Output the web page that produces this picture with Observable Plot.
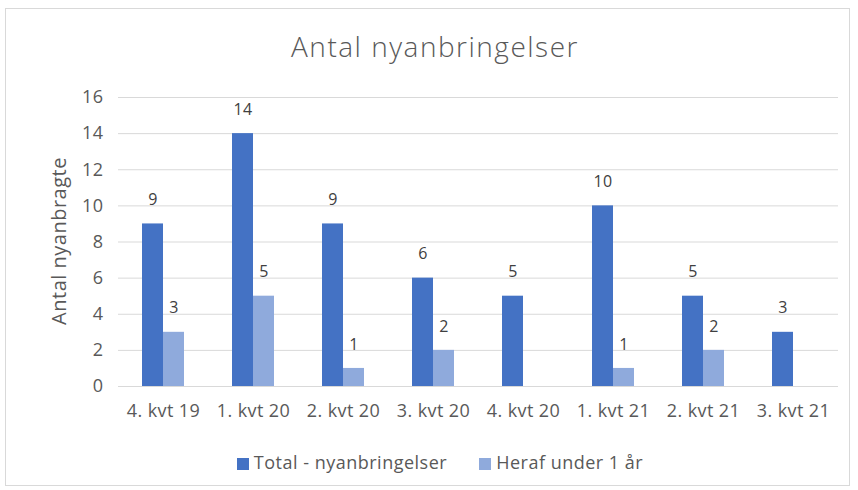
<!DOCTYPE html>
<html>
<head>
<meta charset="utf-8">
<script src="https://cdn.jsdelivr.net/npm/d3@7"></script>
<script src="https://cdn.jsdelivr.net/npm/@observablehq/plot@0.6"></script>
<style>
  html, body { margin: 0; padding: 0; background: #fff; }
  #wrap { position: relative; width: 858px; height: 490px; overflow: hidden; font-family: "Open Sans", Lato, sans-serif; color: #595959; }
  #frame { position: absolute; left: 5px; top: 8px; width: 845px; height: 478px; border: 1px solid #d9d9d9; box-sizing: border-box; }
  #title { position: absolute; left: 0; width: 870px; top: 27px; text-align: center; font-size: 28px; letter-spacing: 1.5px; font-weight: 300; color: #595959; line-height: 38px; }
  #chart { position: absolute; left: 0; top: 80px; }
  #ylabel { position: absolute; left: 58px; top: 241px; transform: translate(-50%, -50%) rotate(-90deg); white-space: nowrap; font-size: 20px; letter-spacing: 0.5px; color: #595959; }
  #legend { position: absolute; left: 0; width: 880px; top: 449px; text-align: center; font-size: 18px; letter-spacing: 0.5px; color: #595959; line-height: 26px; }
  #legend span.item { display: inline-block; margin: 0 16px; }
  #legend span.sw { display: inline-block; width: 12px; height: 12px; margin-right: 5px; vertical-align: -1px; }
  svg text { letter-spacing: 0.4px; }
</style>
</head>
<body>
<div id="wrap">
  <div id="frame"></div>
  <div id="title">Antal nyanbringelser</div>
  <div id="chart"></div>
  <div id="ylabel"></div>
  <div id="legend"></div>
</div>
<script>
const categories = ["4. kvt 19", "1. kvt 20", "2. kvt 20", "3. kvt 20", "4. kvt 20", "1. kvt 21", "2. kvt 21", "3. kvt 21"];
const seriesNames = ["Total - nyanbringelser", "Heraf under 1 år"];
const totalValues = [9, 14, 9, 6, 5, 10, 5, 3];
const underOneValues = [3, 5, 1, 2, null, 1, 2, null];
const yTicks = [0, 2, 4, 6, 8, 10, 12, 14, 16];
const yLabel = "Antal nyanbragte";
const colors = ["#4472C4", "#8FAADC"];

const data = [];
categories.forEach((c, i) => {
  data.push({cat: c, series: seriesNames[0], value: totalValues[i]});
  data.push({cat: c, series: seriesNames[1], value: underOneValues[i]});
});
const shown = data.filter(d => d.value != null);

const plot = Plot.plot({
  width: 858,
  height: 350,
  marginLeft: 117,
  marginRight: 20,
  marginTop: 17,
  marginBottom: 44,
  style: {fontFamily: "'Open Sans', Lato, sans-serif", fontSize: "18px", color: "#595959", background: "transparent"},
  fx: {domain: categories, padding: 0, axis: "bottom", tickSize: 0, tickPadding: 18, label: null},
  x: {domain: seriesNames, axis: null, paddingInner: 0, paddingOuter: 1.05},
  y: {domain: [0, 16], ticks: yTicks, tickSize: 0, tickPadding: 15, label: null, tickFormat: d => String(d)},
  color: {domain: seriesNames, range: colors},
  marks: [
    Plot.ruleY(yTicks, {stroke: "#d9d9d9", strokeWidth: 1}),
    Plot.barY(shown, {fx: "cat", x: "series", y: "value", fill: "series"}),
    Plot.text(shown, {fx: "cat", x: "series", y: "value", text: d => String(d.value), dy: -24, fill: "#404040", fontSize: 16})
  ]
});
document.getElementById("chart").appendChild(plot);
document.getElementById("ylabel").textContent = yLabel;

const legend = document.getElementById("legend");
seriesNames.forEach((s, i) => {
  const item = document.createElement("span");
  item.className = "item";
  const sw = document.createElement("span");
  sw.className = "sw";
  sw.style.background = colors[i];
  item.appendChild(sw);
  item.appendChild(document.createTextNode(s));
  legend.appendChild(item);
});
</script>
</body>
</html>
